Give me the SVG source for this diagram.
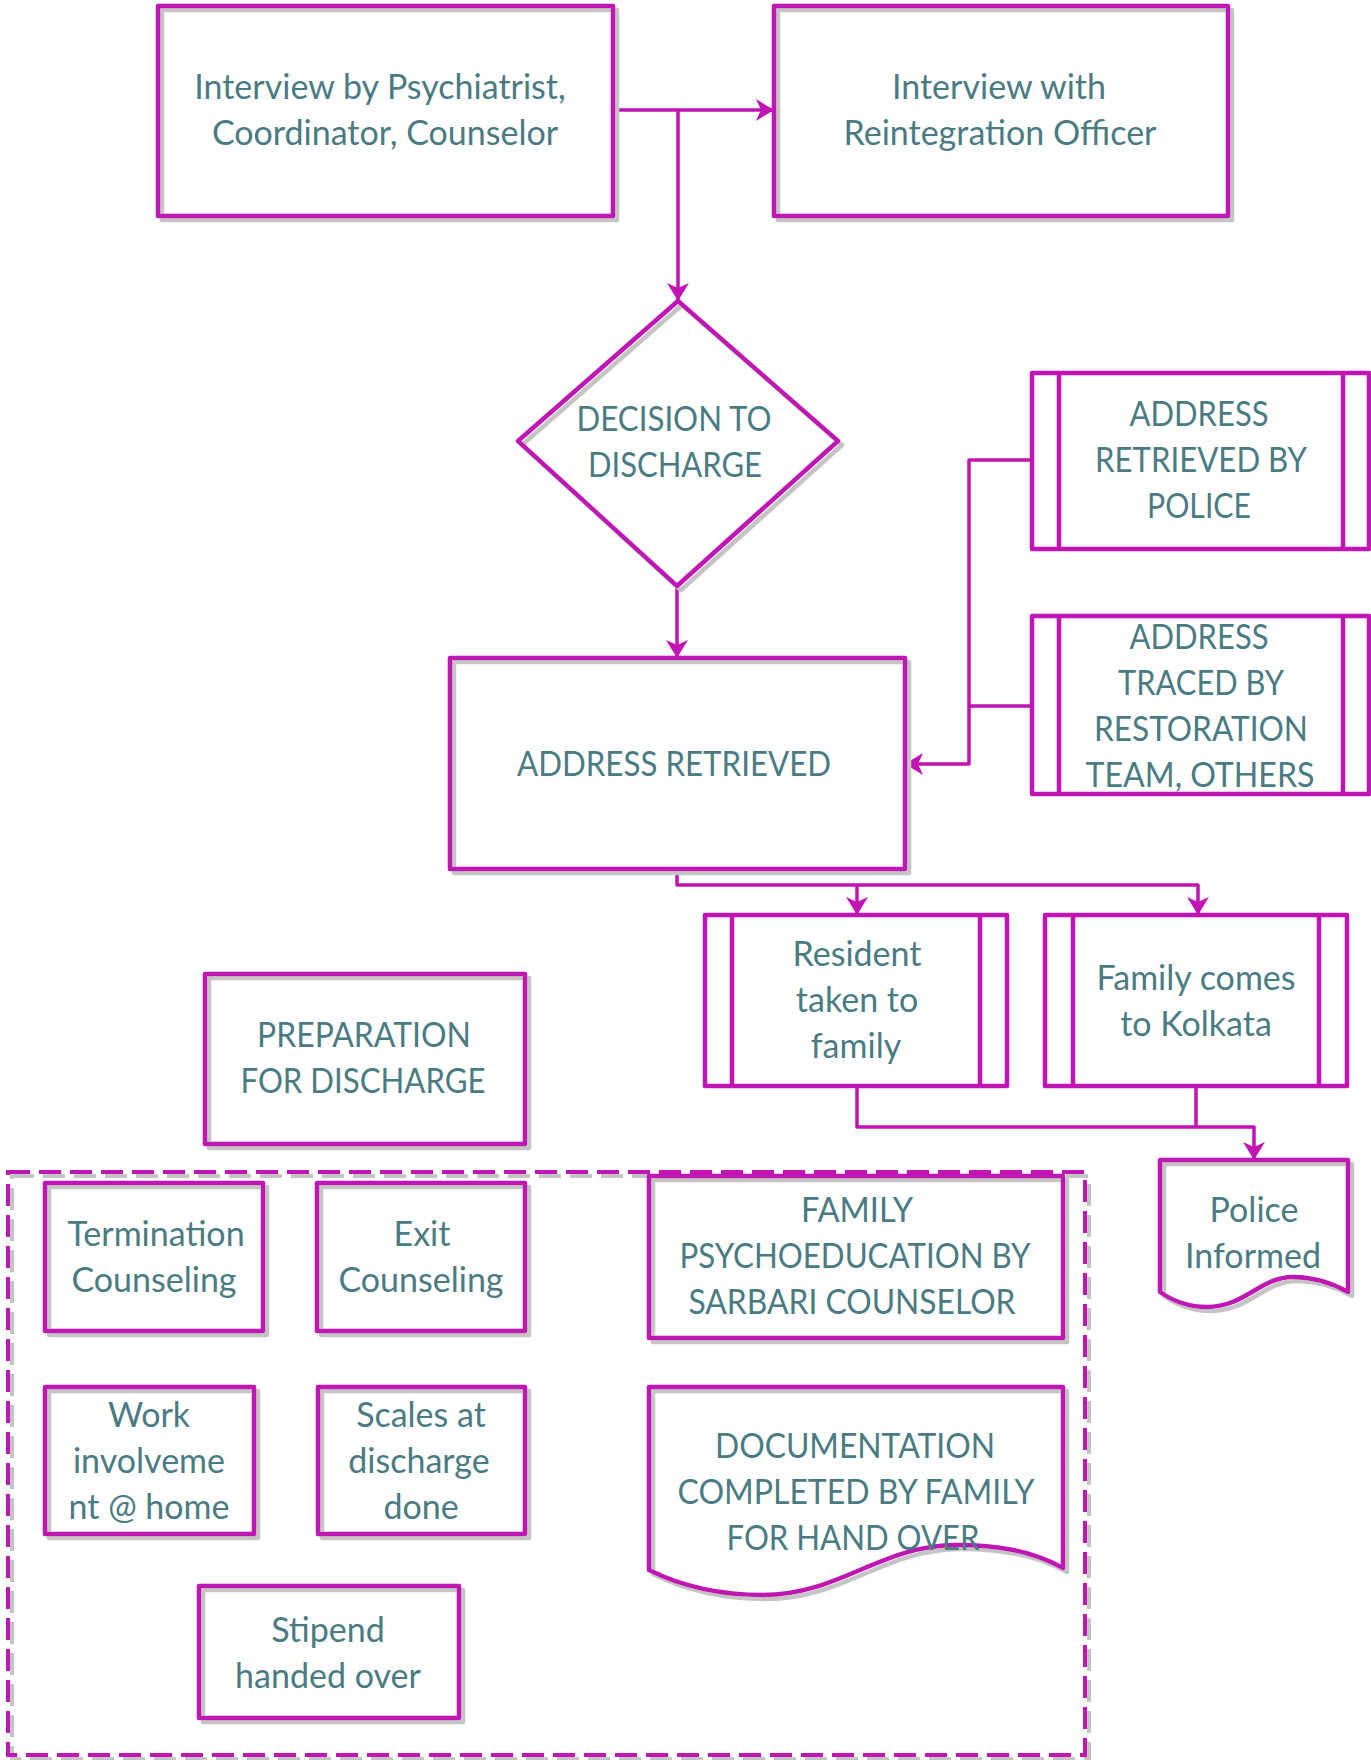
<svg xmlns="http://www.w3.org/2000/svg" width="1371" height="1760" viewBox="0 0 1371 1760">
<style>
.s{fill:none;stroke:#C014B4;stroke-width:4.5;stroke-linejoin:round}
.c{fill:none;stroke:#C014B4;stroke-width:3.5;stroke-linejoin:round}
.d{fill:none;stroke:#C014B4;stroke-width:4;stroke-dasharray:22 9}
text{font-family:Lato,"Liberation Sans",sans-serif;font-size:34px;fill:#4A7B83;text-anchor:middle}
</style>
<defs>
<filter id="sh" x="-5%" y="-5%" width="115%" height="115%">
<feOffset in="SourceAlpha" dx="4" dy="4" result="o"/>
<feFlood flood-color="#c4c4c4"/>
<feComposite in2="o" operator="in" result="g"/>
<feMerge><feMergeNode in="g"/><feMergeNode in="SourceGraphic"/></feMerge>
</filter>
<marker id="ar" viewBox="0 0 18 22" refX="18" refY="11" markerWidth="18" markerHeight="22" markerUnits="userSpaceOnUse" orient="auto">
<path d="M18,11 L0,0 L5,11 L0,22 Z" fill="#C014B4"/>
</marker>
</defs>
<rect width="1371" height="1760" fill="#fff"/>

<g id="container">
<rect class="d" x="8" y="1172" width="1077" height="583" filter="url(#sh)"/>
</g>

<g id="connectors">
<path class="c" d="M613,110 H774" marker-end="url(#ar)"/>
<path class="c" d="M678,110 V301" marker-end="url(#ar)"/>
<path class="c" d="M677,586 V658" marker-end="url(#ar)"/>
<path class="c" d="M1032,460 H969 V764 H905" marker-end="url(#ar)"/>
<path class="c" d="M1032,706 H969"/>
<path class="c" d="M677,869 V885 H1198 V915" marker-end="url(#ar)"/>
<path class="c" d="M857,885 V915" marker-end="url(#ar)"/>
<path class="c" d="M857,1086 V1127 H1254 V1160" marker-end="url(#ar)"/>
<path class="c" d="M1196,1086 V1127"/>
</g>

<g id="n1">
<rect class="s" x="158" y="6" width="455" height="210" filter="url(#sh)"/>
<text x="380" y="99">Interview by Psychiatrist,</text>
<text x="385" y="145">Coordinator, Counselor</text>
</g>
<g id="n2">
<rect class="s" x="774" y="6" width="454" height="210" filter="url(#sh)"/>
<text x="999" y="99">Interview with</text>
<text x="1000" y="145">Reintegration Officer</text>
</g>
<g id="n3">
<path class="s" d="M678,301 L838,441 L677,586 L518,441 Z" filter="url(#sh)"/>
<text x="674" y="431" textLength="195" lengthAdjust="spacingAndGlyphs">DECISION TO</text>
<text x="675" y="477" textLength="174" lengthAdjust="spacingAndGlyphs">DISCHARGE</text>
</g>
<g id="n4">
<rect class="s" x="450" y="658" width="455" height="211" filter="url(#sh)"/>
<text x="674" y="776" textLength="314" lengthAdjust="spacingAndGlyphs">ADDRESS RETRIEVED</text>
</g>
<g id="n5">
<rect class="s" x="1032" y="373" width="337" height="176"/>
<path class="s" d="M1059,373 V549 M1343,373 V549"/>
<text x="1199" y="426" textLength="139" lengthAdjust="spacingAndGlyphs">ADDRESS</text>
<text x="1201" y="472" textLength="212" lengthAdjust="spacingAndGlyphs">RETRIEVED BY</text>
<text x="1199" y="518" textLength="104" lengthAdjust="spacingAndGlyphs">POLICE</text>
</g>
<g id="n6">
<rect class="s" x="1032" y="616" width="337" height="178"/>
<path class="s" d="M1059,616 V794 M1343,616 V794"/>
<text x="1199" y="649" textLength="139" lengthAdjust="spacingAndGlyphs">ADDRESS</text>
<text x="1201" y="695" textLength="166" lengthAdjust="spacingAndGlyphs">TRACED BY</text>
<text x="1201" y="741" textLength="214" lengthAdjust="spacingAndGlyphs">RESTORATION</text>
<text x="1200" y="787" textLength="229" lengthAdjust="spacingAndGlyphs">TEAM, OTHERS</text>
</g>
<g id="n7">
<rect class="s" x="705" y="915" width="302" height="171"/>
<path class="s" d="M732,915 V1086 M980,915 V1086"/>
<text x="857" y="966">Resident</text>
<text x="857" y="1012">taken to</text>
<text x="856" y="1058">family</text>
</g>
<g id="n8">
<rect class="s" x="1045" y="915" width="302" height="171"/>
<path class="s" d="M1073,915 V1086 M1319,915 V1086"/>
<text x="1196" y="990">Family comes</text>
<text x="1196" y="1036">to Kolkata</text>
</g>
<g id="n9">
<path class="s" d="M1160,1160 H1348 V1292 C1330,1282 1312,1277 1293,1277 C1260,1277 1245,1307 1207,1307 C1185,1307 1170,1299 1160,1292 Z" filter="url(#sh)"/>
<text x="1254" y="1222">Police</text>
<text x="1253" y="1268">Informed</text>
</g>
<g id="n10">
<rect class="s" x="205" y="974" width="320" height="170" filter="url(#sh)"/>
<text x="364" y="1047" textLength="214" lengthAdjust="spacingAndGlyphs">PREPARATION</text>
<text x="363" y="1093" textLength="245" lengthAdjust="spacingAndGlyphs">FOR DISCHARGE</text>
</g>
<g id="n11">
<rect class="s" x="45" y="1183" width="218" height="148" filter="url(#sh)"/>
<text x="156" y="1246">Termination</text>
<text x="154" y="1292">Counseling</text>
</g>
<g id="n12">
<rect class="s" x="317" y="1183" width="208" height="148" filter="url(#sh)"/>
<text x="422" y="1246">Exit</text>
<text x="421" y="1292">Counseling</text>
</g>
<g id="n13">
<rect class="s" x="649" y="1176" width="414" height="162" filter="url(#sh)"/>
<text x="857" y="1222" textLength="112" lengthAdjust="spacingAndGlyphs">FAMILY</text>
<text x="855" y="1268" textLength="351" lengthAdjust="spacingAndGlyphs">PSYCHOEDUCATION BY</text>
<text x="852" y="1314" textLength="327" lengthAdjust="spacingAndGlyphs">SARBARI COUNSELOR</text>
</g>
<g id="n14">
<rect class="s" x="45" y="1387" width="209" height="147" filter="url(#sh)"/>
<text x="149" y="1427">Work</text>
<text x="149" y="1473">involveme</text>
<text x="149" y="1519">nt @ home</text>
</g>
<g id="n15">
<rect class="s" x="318" y="1387" width="207" height="147" filter="url(#sh)"/>
<text x="421" y="1427">Scales at</text>
<text x="419" y="1473">discharge</text>
<text x="421" y="1519">done</text>
</g>
<g id="n16">
<path class="s" d="M649,1387 H1063 V1568 C1030,1550 995,1545 957,1545 C880,1545 840,1595 763,1595 C710,1595 675,1583 649,1570 Z" filter="url(#sh)"/>
<text x="855" y="1458" textLength="280" lengthAdjust="spacingAndGlyphs">DOCUMENTATION</text>
<text x="856" y="1504" textLength="357" lengthAdjust="spacingAndGlyphs">COMPLETED BY FAMILY</text>
<text x="853" y="1550" textLength="253" lengthAdjust="spacingAndGlyphs">FOR HAND OVER</text>
</g>
<g id="n17">
<rect class="s" x="199" y="1586" width="260" height="132" filter="url(#sh)"/>
<text x="328" y="1642">Stipend</text>
<text x="328" y="1688">handed over</text>
</g>
</svg>
